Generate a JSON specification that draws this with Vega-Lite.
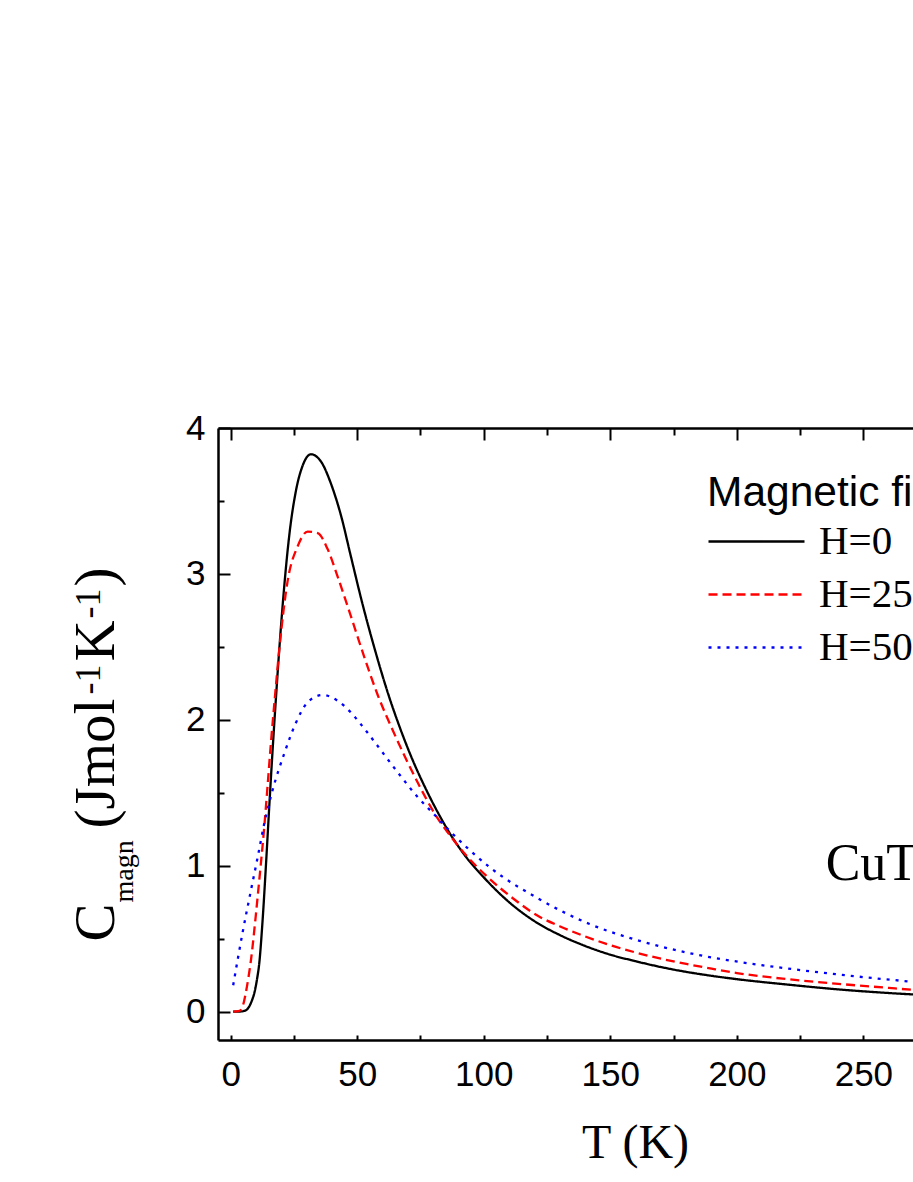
{
  "$schema": "https://vega.github.io/schema/vega-lite/v6.json",
  "width": 695,
  "height": 612,
  "autosize": {"type": "none"},
  "padding": {"left": 218, "top": 428, "right": 0, "bottom": 142},
  "background": "white",
  "config": {
    "view": {"stroke": null},
    "axis": {"grid": false, "domainColor": "black", "tickColor": "black", "gridColor": "black", "gridOpacity": 1, "labelColor": "black", "titleColor": "black", "titleFontWeight": "normal", "labelFlush": false, "labelOverlap": false, "ticks": false},
    "legend": {
      "padding": 0,
      "titleFont": "Liberation Sans", "titleFontSize": 42.5, "titleFontWeight": "normal", "titleColor": "black", "titlePadding": 5, "titleLimit": 1000,
      "labelFont": "Liberation Serif", "labelFontSize": 41, "labelColor": "black", "labelOffset": 13, "labelLimit": 1000,
      "symbolType": "stroke", "symbolSize": 9216, "symbolStrokeWidth": 2.3, "rowPadding": 9, "clipHeight": 44
    }
  },
  "datasets": {
    "curves": [
      {"H": "H=0", "T": 1, "C": 0},
      {"H": "H=0", "T": 3, "C": 0},
      {"H": "H=0", "T": 5, "C": 0.003},
      {"H": "H=0", "T": 6.5, "C": 0.015},
      {"H": "H=0", "T": 7.5, "C": 0.04},
      {"H": "H=0", "T": 8.5, "C": 0.08},
      {"H": "H=0", "T": 9.4, "C": 0.13},
      {"H": "H=0", "T": 10.4, "C": 0.22},
      {"H": "H=0", "T": 11.3, "C": 0.33},
      {"H": "H=0", "T": 12.6, "C": 0.62},
      {"H": "H=0", "T": 14, "C": 1.02},
      {"H": "H=0", "T": 15.3, "C": 1.42},
      {"H": "H=0", "T": 16.6, "C": 1.8},
      {"H": "H=0", "T": 17.9, "C": 2.15},
      {"H": "H=0", "T": 19.2, "C": 2.48},
      {"H": "H=0", "T": 21.2, "C": 2.92},
      {"H": "H=0", "T": 23.2, "C": 3.27},
      {"H": "H=0", "T": 25.8, "C": 3.57},
      {"H": "H=0", "T": 28.4, "C": 3.74},
      {"H": "H=0", "T": 31.7, "C": 3.82},
      {"H": "H=0", "T": 35.7, "C": 3.77},
      {"H": "H=0", "T": 39.6, "C": 3.62},
      {"H": "H=0", "T": 43.6, "C": 3.4},
      {"H": "H=0", "T": 47.5, "C": 3.12},
      {"H": "H=0", "T": 52, "C": 2.8},
      {"H": "H=0", "T": 57, "C": 2.48},
      {"H": "H=0", "T": 62, "C": 2.19},
      {"H": "H=0", "T": 67, "C": 1.94},
      {"H": "H=0", "T": 72, "C": 1.72},
      {"H": "H=0", "T": 77, "C": 1.53},
      {"H": "H=0", "T": 82, "C": 1.36},
      {"H": "H=0", "T": 87, "C": 1.21},
      {"H": "H=0", "T": 93, "C": 1.06},
      {"H": "H=0", "T": 100, "C": 0.92},
      {"H": "H=0", "T": 110, "C": 0.75},
      {"H": "H=0", "T": 120, "C": 0.62},
      {"H": "H=0", "T": 130, "C": 0.525},
      {"H": "H=0", "T": 140, "C": 0.45},
      {"H": "H=0", "T": 150, "C": 0.39},
      {"H": "H=0", "T": 160, "C": 0.345},
      {"H": "H=0", "T": 170, "C": 0.305},
      {"H": "H=0", "T": 180, "C": 0.272},
      {"H": "H=0", "T": 190, "C": 0.245},
      {"H": "H=0", "T": 200, "C": 0.222},
      {"H": "H=0", "T": 220, "C": 0.185},
      {"H": "H=0", "T": 240, "C": 0.152},
      {"H": "H=0", "T": 260, "C": 0.127},
      {"H": "H=0", "T": 272, "C": 0.115},
      {"H": "H=25", "T": 1, "C": 0},
      {"H": "H=25", "T": 3, "C": 0.003},
      {"H": "H=25", "T": 4, "C": 0.01},
      {"H": "H=25", "T": 5, "C": 0.05},
      {"H": "H=25", "T": 6, "C": 0.13},
      {"H": "H=25", "T": 7, "C": 0.23},
      {"H": "H=25", "T": 8, "C": 0.35},
      {"H": "H=25", "T": 10, "C": 0.67},
      {"H": "H=25", "T": 11.3, "C": 0.9},
      {"H": "H=25", "T": 13.3, "C": 1.27},
      {"H": "H=25", "T": 14.6, "C": 1.55},
      {"H": "H=25", "T": 15.9, "C": 1.84},
      {"H": "H=25", "T": 17.3, "C": 2.12},
      {"H": "H=25", "T": 19.2, "C": 2.48},
      {"H": "H=25", "T": 22.5, "C": 2.95},
      {"H": "H=25", "T": 26.5, "C": 3.19},
      {"H": "H=25", "T": 30.4, "C": 3.29},
      {"H": "H=25", "T": 34.4, "C": 3.28},
      {"H": "H=25", "T": 38.3, "C": 3.17},
      {"H": "H=25", "T": 42.3, "C": 2.98},
      {"H": "H=25", "T": 47.5, "C": 2.71},
      {"H": "H=25", "T": 52.8, "C": 2.43},
      {"H": "H=25", "T": 58.1, "C": 2.17},
      {"H": "H=25", "T": 64, "C": 1.93},
      {"H": "H=25", "T": 73.9, "C": 1.57},
      {"H": "H=25", "T": 80.5, "C": 1.36},
      {"H": "H=25", "T": 87, "C": 1.2},
      {"H": "H=25", "T": 93.6, "C": 1.06},
      {"H": "H=25", "T": 102.3, "C": 0.91},
      {"H": "H=25", "T": 112, "C": 0.77},
      {"H": "H=25", "T": 122, "C": 0.65},
      {"H": "H=25", "T": 130, "C": 0.585},
      {"H": "H=25", "T": 140, "C": 0.515},
      {"H": "H=25", "T": 150, "C": 0.455},
      {"H": "H=25", "T": 160, "C": 0.405},
      {"H": "H=25", "T": 170, "C": 0.362},
      {"H": "H=25", "T": 180, "C": 0.326},
      {"H": "H=25", "T": 190, "C": 0.294},
      {"H": "H=25", "T": 200, "C": 0.264},
      {"H": "H=25", "T": 220, "C": 0.222},
      {"H": "H=25", "T": 240, "C": 0.19},
      {"H": "H=25", "T": 260, "C": 0.162},
      {"H": "H=25", "T": 272, "C": 0.145},
      {"H": "H=50", "T": 1, "C": 0.18},
      {"H": "H=50", "T": 4.7, "C": 0.54},
      {"H": "H=50", "T": 8, "C": 0.83},
      {"H": "H=50", "T": 10.7, "C": 1.06},
      {"H": "H=50", "T": 13.3, "C": 1.29},
      {"H": "H=50", "T": 16.6, "C": 1.52},
      {"H": "H=50", "T": 21.2, "C": 1.77},
      {"H": "H=50", "T": 25.8, "C": 1.98},
      {"H": "H=50", "T": 30.4, "C": 2.12},
      {"H": "H=50", "T": 36.3, "C": 2.17},
      {"H": "H=50", "T": 42.3, "C": 2.13},
      {"H": "H=50", "T": 47.5, "C": 2.05},
      {"H": "H=50", "T": 52.8, "C": 1.94},
      {"H": "H=50", "T": 58.1, "C": 1.82},
      {"H": "H=50", "T": 66, "C": 1.64},
      {"H": "H=50", "T": 73.9, "C": 1.47},
      {"H": "H=50", "T": 80.5, "C": 1.35},
      {"H": "H=50", "T": 87, "C": 1.23},
      {"H": "H=50", "T": 93.6, "C": 1.12},
      {"H": "H=50", "T": 102.3, "C": 0.99},
      {"H": "H=50", "T": 122, "C": 0.77},
      {"H": "H=50", "T": 141.8, "C": 0.6},
      {"H": "H=50", "T": 161.6, "C": 0.485},
      {"H": "H=50", "T": 181.3, "C": 0.4},
      {"H": "H=50", "T": 201, "C": 0.34},
      {"H": "H=50", "T": 220, "C": 0.295},
      {"H": "H=50", "T": 245, "C": 0.245},
      {"H": "H=50", "T": 272, "C": 0.2}
    ]
  },
  "layer": [
    {
      "data": {"name": "curves"},
      "mark": {"type": "line", "interpolate": "monotone", "clip": true, "strokeWidth": 2.3, "strokeCap": "butt"},
      "encoding": {
        "x": {
          "field": "T", "type": "quantitative",
          "scale": {"domain": [-5, 269.6], "nice": false, "zero": false},
          "axis": {
            "orient": "bottom", "values": [0, 50, 100, 150, 200, 250], "domainWidth": 2.5,
            "grid": true, "gridDash": [12, 3000], "gridWidth": 2,
            "labelFont": "Liberation Sans", "labelFontSize": 35, "labelPadding": 17,
            "title": "T (K)", "titleFont": "Liberation Serif", "titleFontSize": 48,
            "titleX": 417, "titleY": 117, "titleAlign": "center", "titleBaseline": "alphabetic", "titleAngle": 0
          }
        },
        "y": {
          "field": "C", "type": "quantitative",
          "scale": {"domain": [-0.195, 4], "nice": false, "zero": false},
          "axis": {
            "orient": "left", "values": [0, 1, 2, 3, 4], "domainWidth": 2.5,
            "grid": true, "gridDash": [12, 3000], "gridWidth": 2,
            "labelFont": "Liberation Sans", "labelFontSize": 35, "labelPadding": 13,
            "title": "C", "titleFont": "Liberation Serif", "titleFontSize": 57,
            "titleX": -105, "titleY": 513, "titleAngle": -90, "titleAlign": "left", "titleBaseline": "alphabetic"
          }
        },
        "color": {
          "field": "H", "type": "nominal",
          "scale": {"domain": ["H=0", "H=25", "H=50"], "range": ["#000000", "#ff0000", "#0000ff"]},
          "legend": {"title": "Magnetic field", "orient": "none", "legendX": 489, "legendY": 44}
        },
        "strokeDash": {
          "field": "H", "type": "nominal",
          "scale": {"domain": ["H=0", "H=25", "H=50"], "range": [[1, 0], [9, 5], [3, 6]]},
          "legend": {"title": "Magnetic field", "orient": "none", "legendX": 489, "legendY": 44}
        }
      }
    },
    {
      "data": {"values": []},
      "mark": "point",
      "encoding": {
        "x": {
          "field": "T", "type": "quantitative",
          "axis": {"orient": "bottom", "values": [25, 75, 125, 175, 225], "grid": true, "gridDash": [7, 3000], "gridWidth": 2, "domain": false, "labels": false, "title": null}
        },
        "y": {
          "field": "C", "type": "quantitative",
          "axis": {
            "orient": "left", "values": [0.5, 1.5, 2.5, 3.5], "grid": true, "gridDash": [6, 3000], "gridWidth": 2, "domain": false, "labels": false,
            "title": "magn", "titleFont": "Liberation Serif", "titleFontSize": 28,
            "titleX": -86, "titleY": 474, "titleAngle": -90, "titleAlign": "left", "titleBaseline": "alphabetic"
          }
        }
      }
    },
    {
      "data": {"values": []},
      "mark": "point",
      "encoding": {
        "x": {
          "field": "T", "type": "quantitative",
          "axis": {"orient": "top", "values": [0, 25, 50, 75, 100, 125, 150, 175, 200, 225, 250], "grid": true, "gridDash": [5, 3000], "gridWidth": 2, "domainWidth": 2.5, "labels": false, "title": null}
        },
        "y": {
          "field": "C", "type": "quantitative",
          "axis": {
            "orient": "left", "domain": false, "labels": false,
            "title": "(Jmol", "titleFont": "Liberation Serif", "titleFontSize": 57,
            "titleX": -105, "titleY": 400, "titleAngle": -90, "titleAlign": "left", "titleBaseline": "alphabetic"
          }
        }
      }
    },
    {
      "data": {"values": []},
      "mark": "point",
      "encoding": {
        "x": {"field": "T", "type": "quantitative", "axis": null},
        "y": {
          "field": "C", "type": "quantitative",
          "axis": {
            "orient": "left", "domain": false, "labels": false,
            "title": "-1", "titleFont": "Liberation Serif", "titleFontSize": 36,
            "titleX": -119, "titleY": 266, "titleAngle": -90, "titleAlign": "left", "titleBaseline": "alphabetic"
          }
        }
      }
    },
    {
      "data": {"values": []},
      "mark": "point",
      "encoding": {
        "x": {"field": "T", "type": "quantitative", "axis": null},
        "y": {
          "field": "C", "type": "quantitative",
          "axis": {
            "orient": "left", "domain": false, "labels": false,
            "title": "K", "titleFont": "Liberation Serif", "titleFontSize": 57,
            "titleX": -105, "titleY": 233, "titleAngle": -90, "titleAlign": "left", "titleBaseline": "alphabetic"
          }
        }
      }
    },
    {
      "data": {"values": []},
      "mark": "point",
      "encoding": {
        "x": {"field": "T", "type": "quantitative", "axis": null},
        "y": {
          "field": "C", "type": "quantitative",
          "axis": {
            "orient": "left", "domain": false, "labels": false,
            "title": "-1", "titleFont": "Liberation Serif", "titleFontSize": 36,
            "titleX": -119, "titleY": 190, "titleAngle": -90, "titleAlign": "left", "titleBaseline": "alphabetic"
          }
        }
      }
    },
    {
      "data": {"values": []},
      "mark": "point",
      "encoding": {
        "x": {"field": "T", "type": "quantitative", "axis": null},
        "y": {
          "field": "C", "type": "quantitative",
          "axis": {
            "orient": "left", "domain": false, "labels": false,
            "title": ")", "titleFont": "Liberation Serif", "titleFontSize": 57,
            "titleX": -105, "titleY": 158, "titleAngle": -90, "titleAlign": "left", "titleBaseline": "alphabetic"
          }
        }
      }
    },
    {
      "data": {"values": [{}]},
      "mark": {"type": "text", "text": "CuT", "font": "Liberation Serif", "fontSize": 52, "align": "left", "baseline": "alphabetic", "color": "black"},
      "encoding": {
        "x": {"datum": 235.1, "type": "quantitative", "axis": null},
        "y": {"datum": 0.9, "type": "quantitative", "axis": null}
      }
    }
  ],
  "resolve": {"axis": {"x": "independent", "y": "independent"}}
}
